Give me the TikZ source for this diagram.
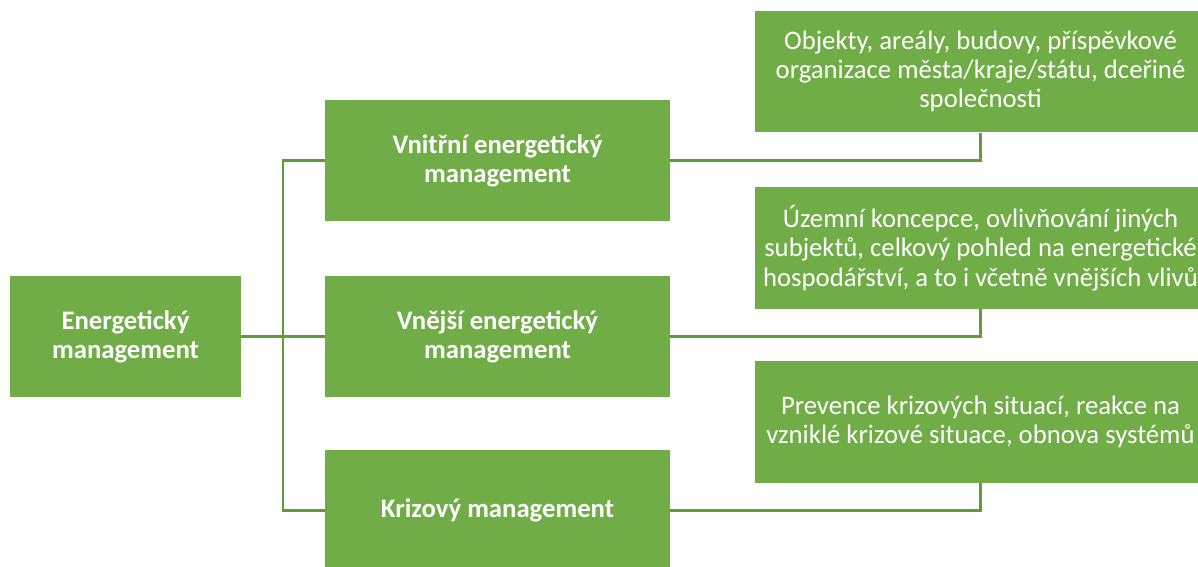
\documentclass[tikz,border=0pt]{standalone}
\usepackage{fontspec}
\setmainfont{Carlito}
\definecolor{boxgreen}{HTML}{70AD47}
\definecolor{linegreen}{HTML}{5E9B3D}
\tikzset{
  box/.style={fill=boxgreen, text=white, align=center, inner sep=0pt,
    font=\fontsize{15.2pt}{16.6pt}\selectfont},
  levelbox/.style={box, font=\fontsize{15.2pt}{16.6pt}\selectfont\bfseries,
    minimum width=6.9cm, minimum height=2.42cm},
  notebox/.style={box, minimum width=9.02cm, minimum height=2.44cm},
  link/.style={draw=linegreen, line width=1.7pt}
}
\begin{document}
\begin{tikzpicture}[x=0.02cm, y=-0.02cm]
    \useasboundingbox (0, 0) rectangle (1198, 566);
    \clip (0, 0) rectangle (1198, 566);
    % main box
    \node[box, font=\fontsize{15.2pt}{16.6pt}\selectfont\bfseries,
      minimum width=4.62cm, minimum height=2.42cm] (em) at (125.5, 336.5)
      {Energetický\\management};
    % second level
    \node[levelbox] (vn) at (497.5, 160.5) {Vnitřní energetický\\management};
    \node[levelbox] (vj) at (497.5, 336.5) {Vnější energetický\\management};
    \node[levelbox] (kz) at (497.5, 510) {Krizový management};
    % notes
    \node[notebox] (ovn) at (980.5, 71.5)
      {Objekty, areály, budovy, příspěvkové\\organizace města/kraje/státu, dceřiné\\společnosti};
    \node[notebox] (ovj) at (980.5, 248)
      {Územní koncepce, ovlivňování jiných\\subjektů, celkový pohled na energetické\\hospodářství, a to i včetně vnějších vlivů};
    \node[notebox] (okz) at (980.5, 422)
      {Prevence krizových situací, reakce na\\vzniklé krizové situace, obnova systémů};
    \coordinate (j) at (283, 336.5);
    \draw[link] (em.east) -- (j);
    \draw[link] (vn.west) -| (j) |- (kz.west);
    \draw[link] (j) -- (vj.west);
    \draw[link] (vn.east) -| (ovn.south);
    \draw[link] (vj.east) -| (ovj.south);
    \draw[link] (kz.east) -| (okz.south);
  \end{tikzpicture}
\end{document}
